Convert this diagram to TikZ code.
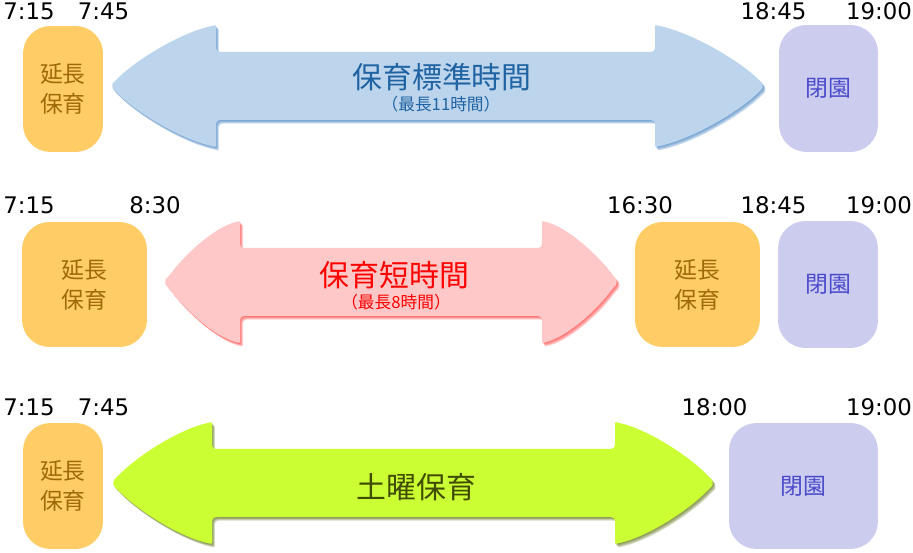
\documentclass[tikz,border=0pt]{standalone}
\usepackage{fontspec}
\setmainfont{DejaVu Sans}
\newfontfamily\jp{Noto Sans CJK JP}
\usetikzlibrary{positioning}
\definecolor{orenji}{HTML}{FFCC66}
\definecolor{chairo}{HTML}{9C6A08}
\definecolor{fuji}{HTML}{CCCCEE}
\definecolor{murasaki}{HTML}{4A4ACC}
\definecolor{sora}{HTML}{BDD5EC}
\definecolor{sorakage}{HTML}{3F7FBF}
\definecolor{aomoji}{HTML}{1F63A3}
\definecolor{momo}{HTML}{FFC8C8}
\definecolor{momokage}{HTML}{FF3B3B}
\definecolor{wakaba}{HTML}{CCFF33}
\definecolor{wakabakage}{HTML}{5A7010}
\definecolor{midorimoji}{HTML}{404D00}
\tikzset{
	jikan/.style={font=\fontsize{13}{15}\selectfont, anchor=base, inner sep=0pt},
	enchou/.style={fill=orenji, rounded corners=0.55cm, text=chairo, font=\jp\fontsize{13}{17}\selectfont, align=center, inner sep=0pt},
	heien/.style={fill=fuji, rounded corners=0.55cm, text=murasaki, font=\jp\fontsize{13}{17}\selectfont, inner sep=0pt},
	midashi/.style={font=\jp\fontsize{17}{20}\selectfont, inner sep=0pt},
	chuki/.style={font=\jp\fontsize{9.5}{11}\selectfont, inner sep=0pt}
}
\begin{document}
\begin{tikzpicture}[x=0.02cm, y=-0.02cm, line join=round]
	%%矢印の寸法
	\def \headH{61}
	\def \shaftH{34}
	\def \yajiri#1#2#3#4#5{(#2,{#5-\shaftH}) -- (#3,{#5-\shaftH}) -- (#3,{#5-\headH+5})
		.. controls (#3,{#5-\headH}) .. ({#3+5},{#5-\headH+1})
		.. controls +({0.33*(#4-#3)},{0.15*\headH}) and +({-0.2*(#4-#3)},{-0.33*\headH}) .. ({#4-4},{#5-6})
		.. controls (#4,{#5-2}) and (#4,{#5+2}) .. ({#4-4},{#5+6})
		.. controls +({-0.2*(#4-#3)},{0.33*\headH}) and +({0.33*(#4-#3)},{-0.15*\headH}) .. ({#3+5},{#5+\headH-1})
		.. controls (#3,{#5+\headH}) .. (#3,{#5+\headH-5})
		-- (#3,{#5+\shaftH}) -- (#2,{#5+\shaftH}) -- (#2,{#5+\headH-5})
		.. controls (#2,{#5+\headH}) .. ({#2-5},{#5+\headH-1})
		.. controls +({-0.33*(#2-#1)},{-0.15*\headH}) and +({0.2*(#2-#1)},{0.33*\headH}) .. ({#1+4},{#5+6})
		.. controls (#1,{#5+2}) and (#1,{#5-2}) .. ({#1+4},{#5-6})
		.. controls +({0.2*(#2-#1)},{-0.33*\headH}) and +({-0.33*(#2-#1)},{0.15*\headH}) .. ({#2-5},{#5-\headH+1})
		.. controls (#2,{#5-\headH}) .. (#2,{#5-\headH+5})
		-- cycle}
	\def \yajirushi#1#2#3#4#5#6#7{
		\foreach \s in {1,...,4}
			\fill[#2, opacity=.25, rounded corners=0.08cm, shift={(\s*.7,\s*.9)}] \yajiri{#3}{#4}{#5}{#6}{#7};
		\fill[#1, rounded corners=0.08cm] \yajiri{#3}{#4}{#5}{#6}{#7};
	}
	\useasboundingbox (0,0) rectangle (913,553);
	%%1段目
	\node[jikan] (a1) at (29,20) {7:15};
	\node[jikan] (a2) at (103.5,20) {7:45};
	\node[jikan] (a3) at (773.5,20) {18:45};
	\node[jikan] (a4) at (879,20) {19:00};
	\node[enchou, minimum width=1.6cm, minimum height=2.52cm] (en1) at (63,89) {延長\\保育};
	\node[heien, minimum width=1.98cm, minimum height=2.54cm] (hei1) at (828.5,88.5) {閉園};
	\yajirushi{sora}{sorakage}{112}{216}{655}{763}{86}
	\node[midashi, text=aomoji] (t1) at (442,77) {保育標準時間};
	\node[chuki, text=aomoji] (s1) at (441,104) {（最長11時間）};
	%%2段目
	\node[jikan] (b1) at (29,214) {7:15};
	\node[jikan] (b2) at (155,214) {8:30};
	\node[jikan] (b3) at (640,214) {16:30};
	\node[jikan] (b4) at (773.5,214) {18:45};
	\node[jikan] (b5) at (879,214) {19:00};
	\node[enchou, minimum width=2.5cm, minimum height=2.5cm] (en2) at (84.5,284.5) {延長\\保育};
	\node[enchou, minimum width=2.5cm, minimum height=2.5cm] (en3) at (697.5,284.5) {延長\\保育};
	\node[heien, minimum width=2cm, minimum height=2.54cm] (hei2) at (828,284.5) {閉園};
	\yajirushi{momo}{momokage}{165}{240}{542}{617}{282}
	\node[midashi, text=red] (t2) at (394.5,275) {保育短時間};
	\node[chuki, text=red] (s2) at (396,302) {（最長8時間）};
	%%3段目
	\node[jikan] (c1) at (29,416) {7:15};
	\node[jikan] (c2) at (103.5,416) {7:45};
	\node[jikan] (c3) at (714.5,416) {18:00};
	\node[jikan] (c4) at (879,416) {19:00};
	\node[enchou, minimum width=1.6cm, minimum height=2.52cm] (en4) at (63,486) {延長\\保育};
	\node[heien, minimum width=2.98cm, minimum height=2.52cm] (hei3) at (803.5,486) {閉園};
	\yajirushi{wakaba}{wakabakage}{113}{212}{615}{713}{483}
	\node[midashi, text=midorimoji] (t3) at (416.5,487.5) {土曜保育};
\end{tikzpicture}
\end{document}
